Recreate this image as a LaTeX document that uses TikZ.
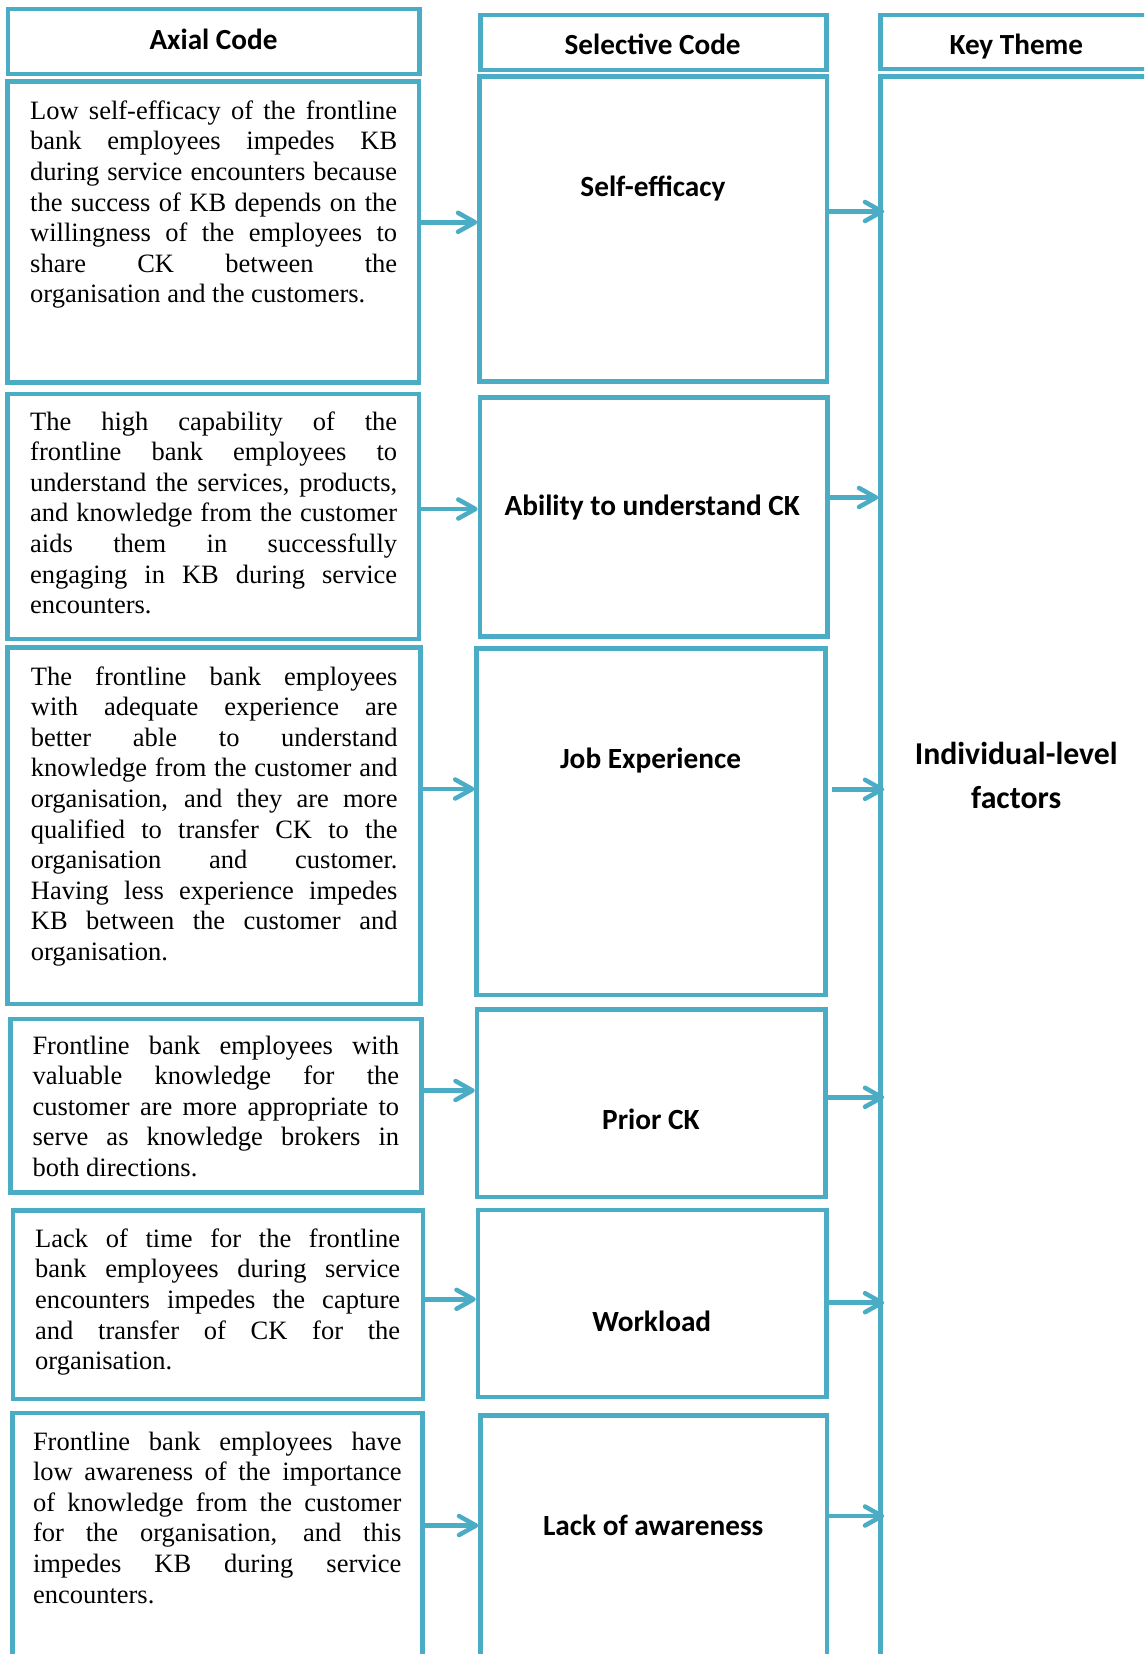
\documentclass[tikz,border=0pt]{standalone}
\usepackage{fontspec}
\setmainfont{Liberation Serif}
\newfontfamily\calibrisub{Carlito}
\usetikzlibrary{arrows.meta,fit}
\definecolor{cellblue}{RGB}{75,172,198}
% justified paragraph whose first baseline is the node's base
\newcommand{\cellpar}[2]{\parbox[t]{#1pt}{\tolerance=10000\hyphenpenalty=10000\relax #2}}

\begin{document}
\begin{tikzpicture}[x=1pt,y=-1pt,
  cell/.style={draw=cellblue,line width=4.5pt,inner sep=0pt},
  flow/.style={draw=cellblue,line width=4.5pt,-{Straight Barb[length=17pt,width=19pt,round]}},
  into/.style={flow,shorten >=-6pt},
  heading/.style={inner sep=0pt,anchor=base,font=\calibrisub\bfseries\fontsize{29.2}{34}\selectfont},
  codelabel/.style={inner sep=0pt,anchor=base,font=\calibrisub\bfseries\fontsize{29.3}{34}\selectfont},
  themelabel/.style={inner sep=0pt,anchor=base,font=\calibrisub\bfseries\fontsize{31.8}{44.3}\selectfont},
  axial/.style={inner sep=0pt,anchor=base west,font=\fontsize{26.5}{30.6}\selectfont}]

\useasboundingbox (0,0) rectangle (1144,1654);
\fill[white] (0,0) rectangle (1144,1654);
\clip (0,0) rectangle (1144,1654);

% ---- axial code column
\node[cell,fit={(8,9) (419.5,74)}] (LH) {};
\node[cell,fit={(7.5,81.5) (419,382.5)}] (L1) {};
\node[cell,fit={(7.5,394) (419,639)}] (L2) {};
\node[cell,fit={(7.5,647.5) (420.5,1004)}] (L3) {};
\node[cell,fit={(10.5,1019) (421.5,1192.5)}] (L4) {};
\node[cell,fit={(12.8,1210.5) (423,1399)}] (L5) {};
\node[cell,fit={(12.4,1413) (422.5,1680)}] (L6) {};

% ---- selective code column
\node[cell,fit={(480.5,15) (826.5,70)}] (MH) {};
\node[cell,fit={(479.5,76.5) (827,381.5)}] (M1) {};
\node[cell,fit={(479.8,397.7) (827.5,636.7)}] (M2) {};
\node[cell,fit={(476.7,648.6) (825.5,995)}] (M3) {};
\node[cell,fit={(477,1009.5) (825.5,1197)}] (M4) {};
\node[cell,fit={(478,1210) (826.5,1397)}] (M5) {};
\node[cell,fit={(480.5,1415.5) (827,1680)}] (M6) {};

% ---- key theme column
\node[cell,fit={(880.5,15) (1152,69)}] (KH) {};
\node[cell,fit={(880.5,76.7) (1152,1680)}] (K) {};

% ---- headings
\node[heading] (tLH) at (213.5,49.3) {Axial Code};
\node[heading] (tMH) at (652.7,54.5) {Selective Code};
\node[heading] (tKH) at (1016.4,54.5) {Key Theme};

% ---- axial code texts
\node[axial] (t1) at (30,119.3) {\cellpar{367}{Low self-efficacy of the frontline\linebreak
bank employees impedes KB\linebreak
during service encounters because\linebreak
the success of KB depends on the\linebreak
willingness of the employees to\linebreak
share CK between the\linebreak
organisation and the customers.}};

\node[axial] (t2) at (30,430) {\cellpar{367}{The high capability of the\linebreak
frontline bank employees to\linebreak
understand the services, products,\linebreak
and knowledge from the customer\linebreak
aids them in successfully\linebreak
engaging in KB during service\linebreak
encounters.}};

\node[axial] (t3) at (30.7,685) {\cellpar{366.6}{The frontline bank employees\linebreak
with adequate experience are\linebreak
better able to understand\linebreak
knowledge from the customer and\linebreak
organisation, and they are more\linebreak
qualified to transfer CK to the\linebreak
organisation and customer.\linebreak
Having less experience impedes\linebreak
KB between the customer and\linebreak
organisation.}};

\node[axial] (t4) at (32.3,1054) {\cellpar{366.7}{Frontline bank employees with\linebreak
valuable knowledge for the\linebreak
customer are more appropriate to\linebreak
serve as knowledge brokers in\linebreak
both directions.}};

\node[axial] (t5) at (35,1247.3) {\cellpar{365}{Lack of time for the frontline\linebreak
bank employees during service\linebreak
encounters impedes the capture\linebreak
and transfer of CK for the\linebreak
organisation.}};

\node[axial] (t6) at (32.8,1450) {\cellpar{368.5}{Frontline bank employees have\linebreak
low awareness of the importance\linebreak
of knowledge from the customer\linebreak
for the organisation, and this\linebreak
impedes KB during service\linebreak
encounters.}};

% ---- selective codes
\node[codelabel] (c1) at (653,196.5) {Self-efficacy};
\node[codelabel] (c2) at (652.2,515.5) {Ability to understand CK};
\node[codelabel] (c3) at (650.6,768.5) {Job Experience};
\node[codelabel] (c4) at (651,1129.5) {Prior CK};
\node[codelabel] (c5) at (651.8,1331.5) {Workload};
\node[codelabel] (c6) at (653.2,1535.5) {Lack of awareness};

% ---- key theme
\node[themelabel] (th) at (1016.2,764.5) {\parbox[t]{300pt}{\centering Individual-level\\factors}};

% ---- arrow rows
\coordinate (r1) at (0,222.3);
\coordinate (r2) at (0,509);
\coordinate (r3) at (0,789);
\coordinate (r4) at (0,1090.5);
\coordinate (r5) at (0,1299.3);
\coordinate (r6) at (0,1525.5);
\coordinate (s1) at (0,211.5);
\coordinate (s2) at (0,497.5);
\coordinate (s3) at (0,789.3);
\coordinate (s4) at (0,1097.3);
\coordinate (s5) at (0,1302.7);
\coordinate (s6) at (0,1516);

\draw[flow] (L1.east |- r1) -- (M1.west |- r1);
\draw[flow] (L2.east |- r2) -- (M2.west |- r2);
\draw[flow] (L3.east |- r3) -- (M3.west |- r3);
\draw[flow] (L4.east |- r4) -- (M4.west |- r4);
\draw[flow] (L5.east |- r5) -- (M5.west |- r5);
\draw[flow] (L6.east |- r6) -- (M6.west |- r6);

\draw[into] (M1.east |- s1) -- (K.west |- s1);
\draw[flow] (M2.east |- s2) -- (K.west |- s2);
\draw[into,shorten <=4pt] (M3.east |- s3) -- (K.west |- s3);
\draw[into] (M4.east |- s4) -- (K.west |- s4);
\draw[into] (M5.east |- s5) -- (K.west |- s5);
\draw[into] (M6.east |- s6) -- (K.west |- s6);
\end{tikzpicture}
\end{document}
